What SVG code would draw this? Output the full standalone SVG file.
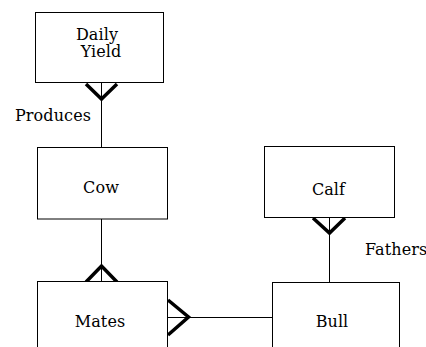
<svg xmlns="http://www.w3.org/2000/svg" width="426" height="347" viewBox="0 0 426 347">
<style>
.box{fill:#fff;stroke:#000;stroke-width:1}
.t{font-family:'DejaVu Serif','Liberation Serif',serif;font-size:16px;fill:#000;letter-spacing:0.1px}
.c{text-anchor:middle}
.ln{stroke:#000;stroke-width:1;fill:none}
.cf{stroke:#000;stroke-width:3.5;fill:none;stroke-linejoin:miter}
</style>
<rect width="426" height="347" fill="#fff"/>
<g id="connectors">
<line class="ln" x1="101.5" y1="83" x2="101.5" y2="147"/>
<polyline class="cf" points="86,84 101.5,99 117,84"/>
<text class="t" x="15" y="121">Produces</text>
<line class="ln" x1="101.5" y1="219" x2="101.5" y2="281"/>
<polyline class="cf" points="86,282 101.5,266 117,282"/>
<line class="ln" x1="167" y1="317.5" x2="272" y2="317.5"/>
<polyline class="cf" points="168,300 188.5,317 168,335"/>
<line class="ln" x1="329.5" y1="217" x2="329.5" y2="282"/>
<polyline class="cf" points="313,218 329.5,233 345,218"/>
<text class="t" x="365" y="255">Fathers</text>
</g>
<g id="daily-yield">
<rect class="box" x="35.5" y="12.5" width="128" height="70"/>
<text class="t c" x="97" y="40">Daily</text>
<text class="t c" x="101" y="57">Yield</text>
</g>
<g id="cow">
<rect class="box" x="37.5" y="147.5" width="130" height="71.5"/>
<text class="t c" x="101" y="193">Cow</text>
</g>
<g id="mates">
<rect class="box" x="37.5" y="281.5" width="130" height="80"/>
<text class="t c" x="100" y="327">Mates</text>
</g>
<g id="calf">
<rect class="box" x="264.5" y="146.5" width="130" height="71"/>
<text class="t c" x="328.5" y="195">Calf</text>
</g>
<g id="bull">
<rect class="box" x="272.5" y="282.5" width="127" height="80"/>
<text class="t c" x="332" y="327">Bull</text>
</g>
</svg>
